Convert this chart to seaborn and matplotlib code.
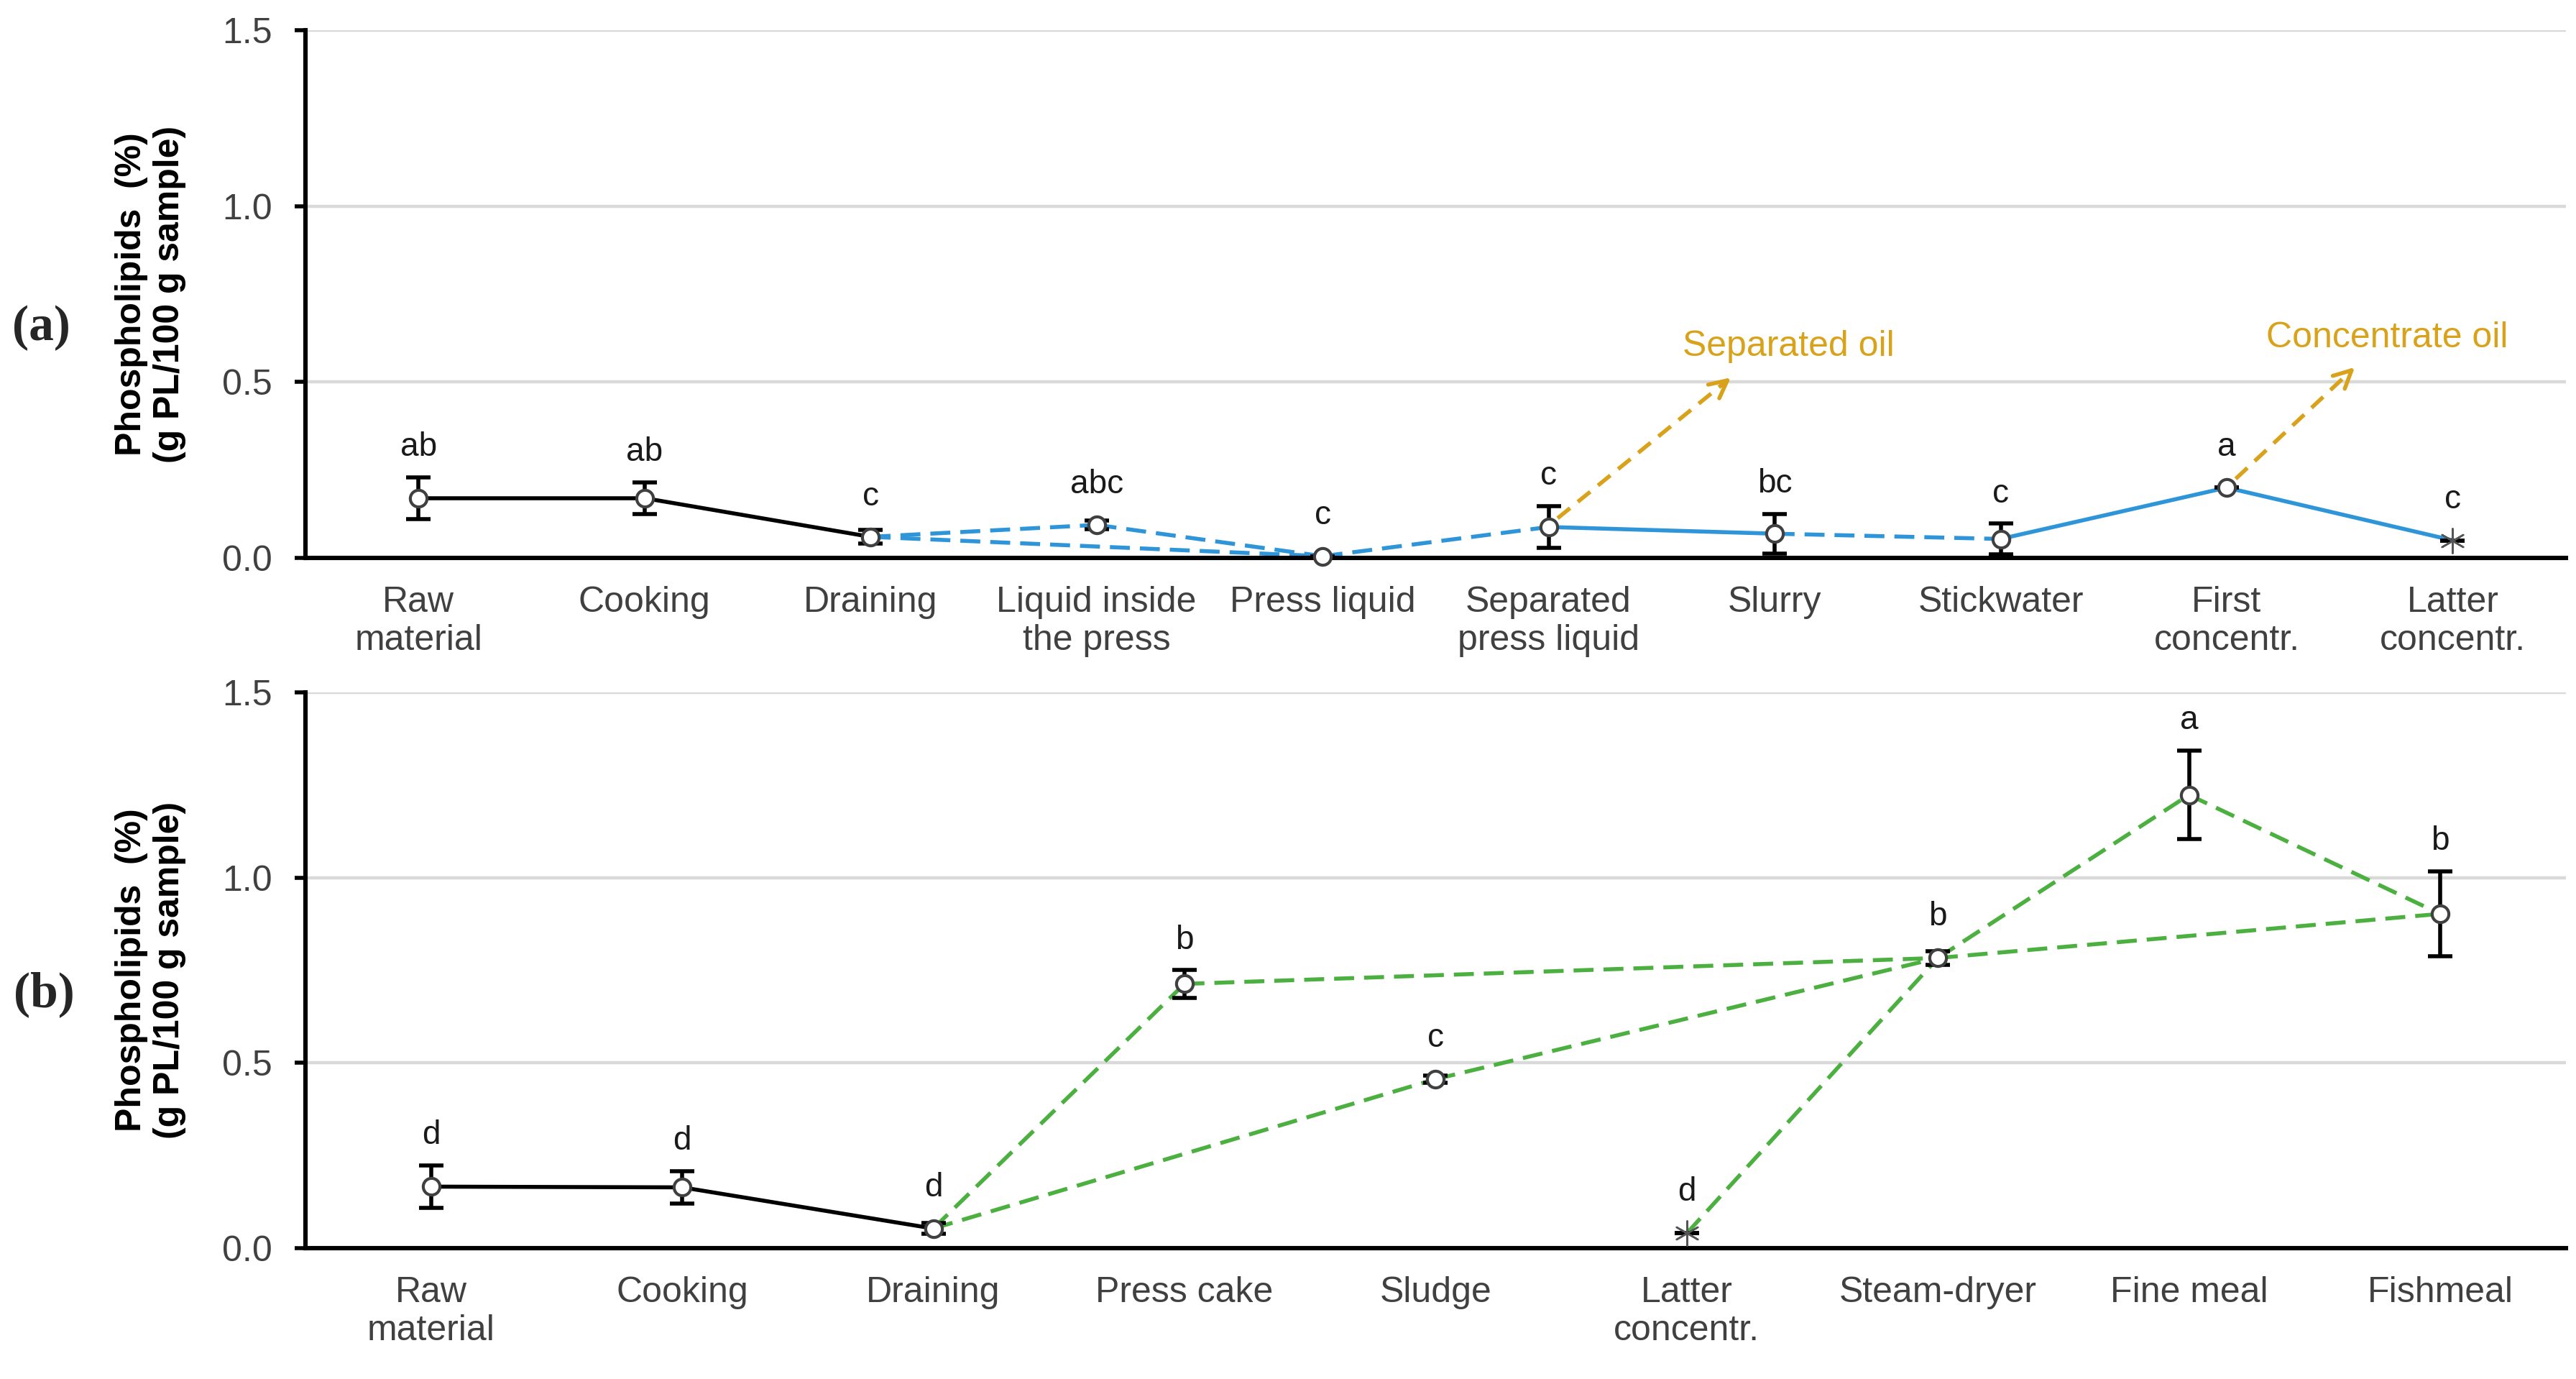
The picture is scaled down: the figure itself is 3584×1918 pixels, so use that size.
import seaborn as sns
import matplotlib.pyplot as plt
import pandas as pd

# ---- data: panel (a) liquid route ----
cats_a = ['Raw\nmaterial', 'Cooking', 'Draining', 'Liquid inside\nthe press', 'Press liquid',
          'Separated\npress liquid', 'Slurry', 'Stickwater', 'First\nconcentr.', 'Latter\nconcentr.']
pl_a = [0.17, 0.17, 0.06, 0.094, 0.005, 0.088, 0.069, 0.054, 0.20, 0.05]
err_a = [0.06, 0.045, 0.02, 0.012, 0.0, 0.06, 0.056, 0.044, 0.0, 0.0]
sig_a = ['ab', 'ab', 'c', 'abc', 'c', 'c', 'bc', 'c', 'a', 'c']
mark_a = ['o', 'o', 'o', 'o', 'o', 'o', 'o', 'o', 'o', 'star']

# ---- data: panel (b) solid route ----
cats_b = ['Raw\nmaterial', 'Cooking', 'Draining', 'Press cake', 'Sludge',
          'Latter\nconcentr.', 'Steam-dryer', 'Fine meal', 'Fishmeal']
pl_b = [0.166, 0.164, 0.053, 0.713, 0.456, 0.04, 0.783, 1.223, 0.902]
err_b = [0.058, 0.044, 0.015, 0.037, 0.01, 0.0, 0.018, 0.12, 0.115]
sig_b = ['d', 'd', 'd', 'b', 'c', 'd', 'b', 'a', 'b']
mark_b = ['o', 'o', 'o', 'o', 'o', 'star', 'o', 'o', 'o']

# process-flow connections (from, to, kind)
links_a = [(0, 1, 'black'), (1, 2, 'black'),
           (2, 3, 'blue--'), (3, 4, 'blue--'), (2, 4, 'blue--'), (4, 5, 'blue--'),
           (5, 6, 'blue'), (6, 7, 'blue--'), (7, 8, 'blue'), (8, 9, 'blue')]
links_b = [(0, 1, 'black'), (1, 2, 'black'),
           (2, 3, 'green--'), (2, 4, 'green--'), (3, 6, 'green--'), (4, 6, 'green--'),
           (5, 6, 'green--'), (6, 7, 'green--'), (6, 8, 'green--'), (7, 8, 'green--')]

# oil side streams (panel a): from index, arrow tip, label centre, label
oil_a = [(5, (5.82, 0.52), (6.06, 0.60), 'Separated oil'),
         (8, (8.58, 0.55), (8.71, 0.625), 'Concentrate oil')]

styles = {
    'black': dict(color='black', linestyle='-'),
    'blue': dict(color='#2E95D8', linestyle='-'),
    'blue--': dict(color='#2E95D8', linestyle=(0, (5, 2.5))),
    'green--': dict(color='#4CB040', linestyle=(0, (5, 2.5))),
}
GOLD = '#D9A21B'
TXT = '#404040'

sns.set_theme(style='white')
plt.rcParams['font.family'] = ['Liberation Sans', 'DejaVu Sans']

fig = plt.figure(figsize=(17.92, 9.59), dpi=200)
ax_a = fig.add_axes([0.1186, 0.5954, 0.8774, 0.3826])
ax_b = fig.add_axes([0.1186, 0.0949, 0.8774, 0.4031])


def draw_panel(ax, cats, vals, errs, sigs, marks, links):
    df = pd.DataFrame({'x': range(len(cats)), 'y': vals, 'err': errs, 'sig': sigs, 'mark': marks})
    for i, j, kind in links:
        seg = df.iloc[[i, j]]
        sns.lineplot(data=seg, x='x', y='y', ax=ax, lw=2, sort=False, zorder=2,
                     clip_on=False, **styles[kind])
    ax.errorbar(df['x'], df['y'], yerr=df['err'], fmt='none', ecolor='black',
                elinewidth=2, capsize=6, capthick=2, zorder=3, clip_on=False)
    circ = df[df['mark'] == 'o']
    sns.scatterplot(data=circ, x='x', y='y', ax=ax, marker='o', s=70, color='white',
                    edgecolor=TXT, linewidth=1.5, zorder=4, clip_on=False)
    star = df[df['mark'] == 'star']
    sns.scatterplot(data=star, x='x', y='y', ax=ax, marker=(6, 2, 0), s=150, color='#555555',
                    linewidth=0.9, zorder=4, clip_on=False)
    for _, r in df.iterrows():
        ax.annotate(r['sig'], (r['x'], r['y'] + max(r['err'], 0.03)), xytext=(0, 7),
                    textcoords='offset points', ha='center', va='bottom',
                    fontsize=16.5, color='#1a1a1a')

    ax.set_xlim(-0.5, len(cats) - 0.5)
    ax.set_ylim(0, 1.5)
    ax.set_yticks([0, 0.5, 1.0, 1.5])
    ax.set_yticklabels(['0.0', '0.5', '1.0', '1.5'])
    ax.set_xticks(range(len(cats)))
    ax.set_xticklabels(cats)
    ax.tick_params(axis='x', length=0, pad=14, labelsize=18, labelcolor=TXT)
    ax.tick_params(axis='y', left=True, length=5.5, width=2, pad=11, labelsize=18,
                   labelcolor=TXT, color='black')
    ax.grid(axis='y', color='#D9D9D9', lw=1.6)
    ax.grid(axis='x', visible=False)
    sns.despine(ax=ax)
    for s in ['left', 'bottom']:
        ax.spines[s].set_color('black')
        ax.spines[s].set_linewidth(2.2)
    ax.set_xlabel('')
    ax.set_ylabel('Phospholipids  (%)\n(g PL/100 g sample)', fontsize=18,
                  fontweight='bold', color='black', labelpad=18)


draw_panel(ax_a, cats_a, pl_a, err_a, sig_a, mark_a, links_a)
draw_panel(ax_b, cats_b, pl_b, err_b, sig_b, mark_b, links_b)

# oil side-stream arrows in panel (a)
for idx, (x1, y1), (tx, ty), label in oil_a:
    x0, y0 = idx + 0.04, pl_a[idx] + 0.025
    fx, fy = (x1 - x0) * 0.06, (y1 - y0) * 0.06
    ax_a.plot([x0, x1 - fx], [y0, y1 - fy], color=GOLD, lw=2,
              linestyle=(0, (4, 2.5)), zorder=3)
    ax_a.annotate('', xy=(x1, y1), xytext=(x1 - 1.5 * fx, y1 - 1.5 * fy),
                  arrowprops=dict(arrowstyle='->', color=GOLD, lw=2, mutation_scale=22))
    ax_a.text(tx, ty, label, color=GOLD, fontsize=18, ha='center', va='center')

fig.text(0.016, 0.762, '(a)', fontsize=25, fontweight='bold', family='Liberation Serif',
         ha='center', va='center')
fig.text(0.017, 0.279, '(b)', fontsize=25, fontweight='bold', family='Liberation Serif',
         ha='center', va='center')

fig.savefig('out.png', dpi=200)
